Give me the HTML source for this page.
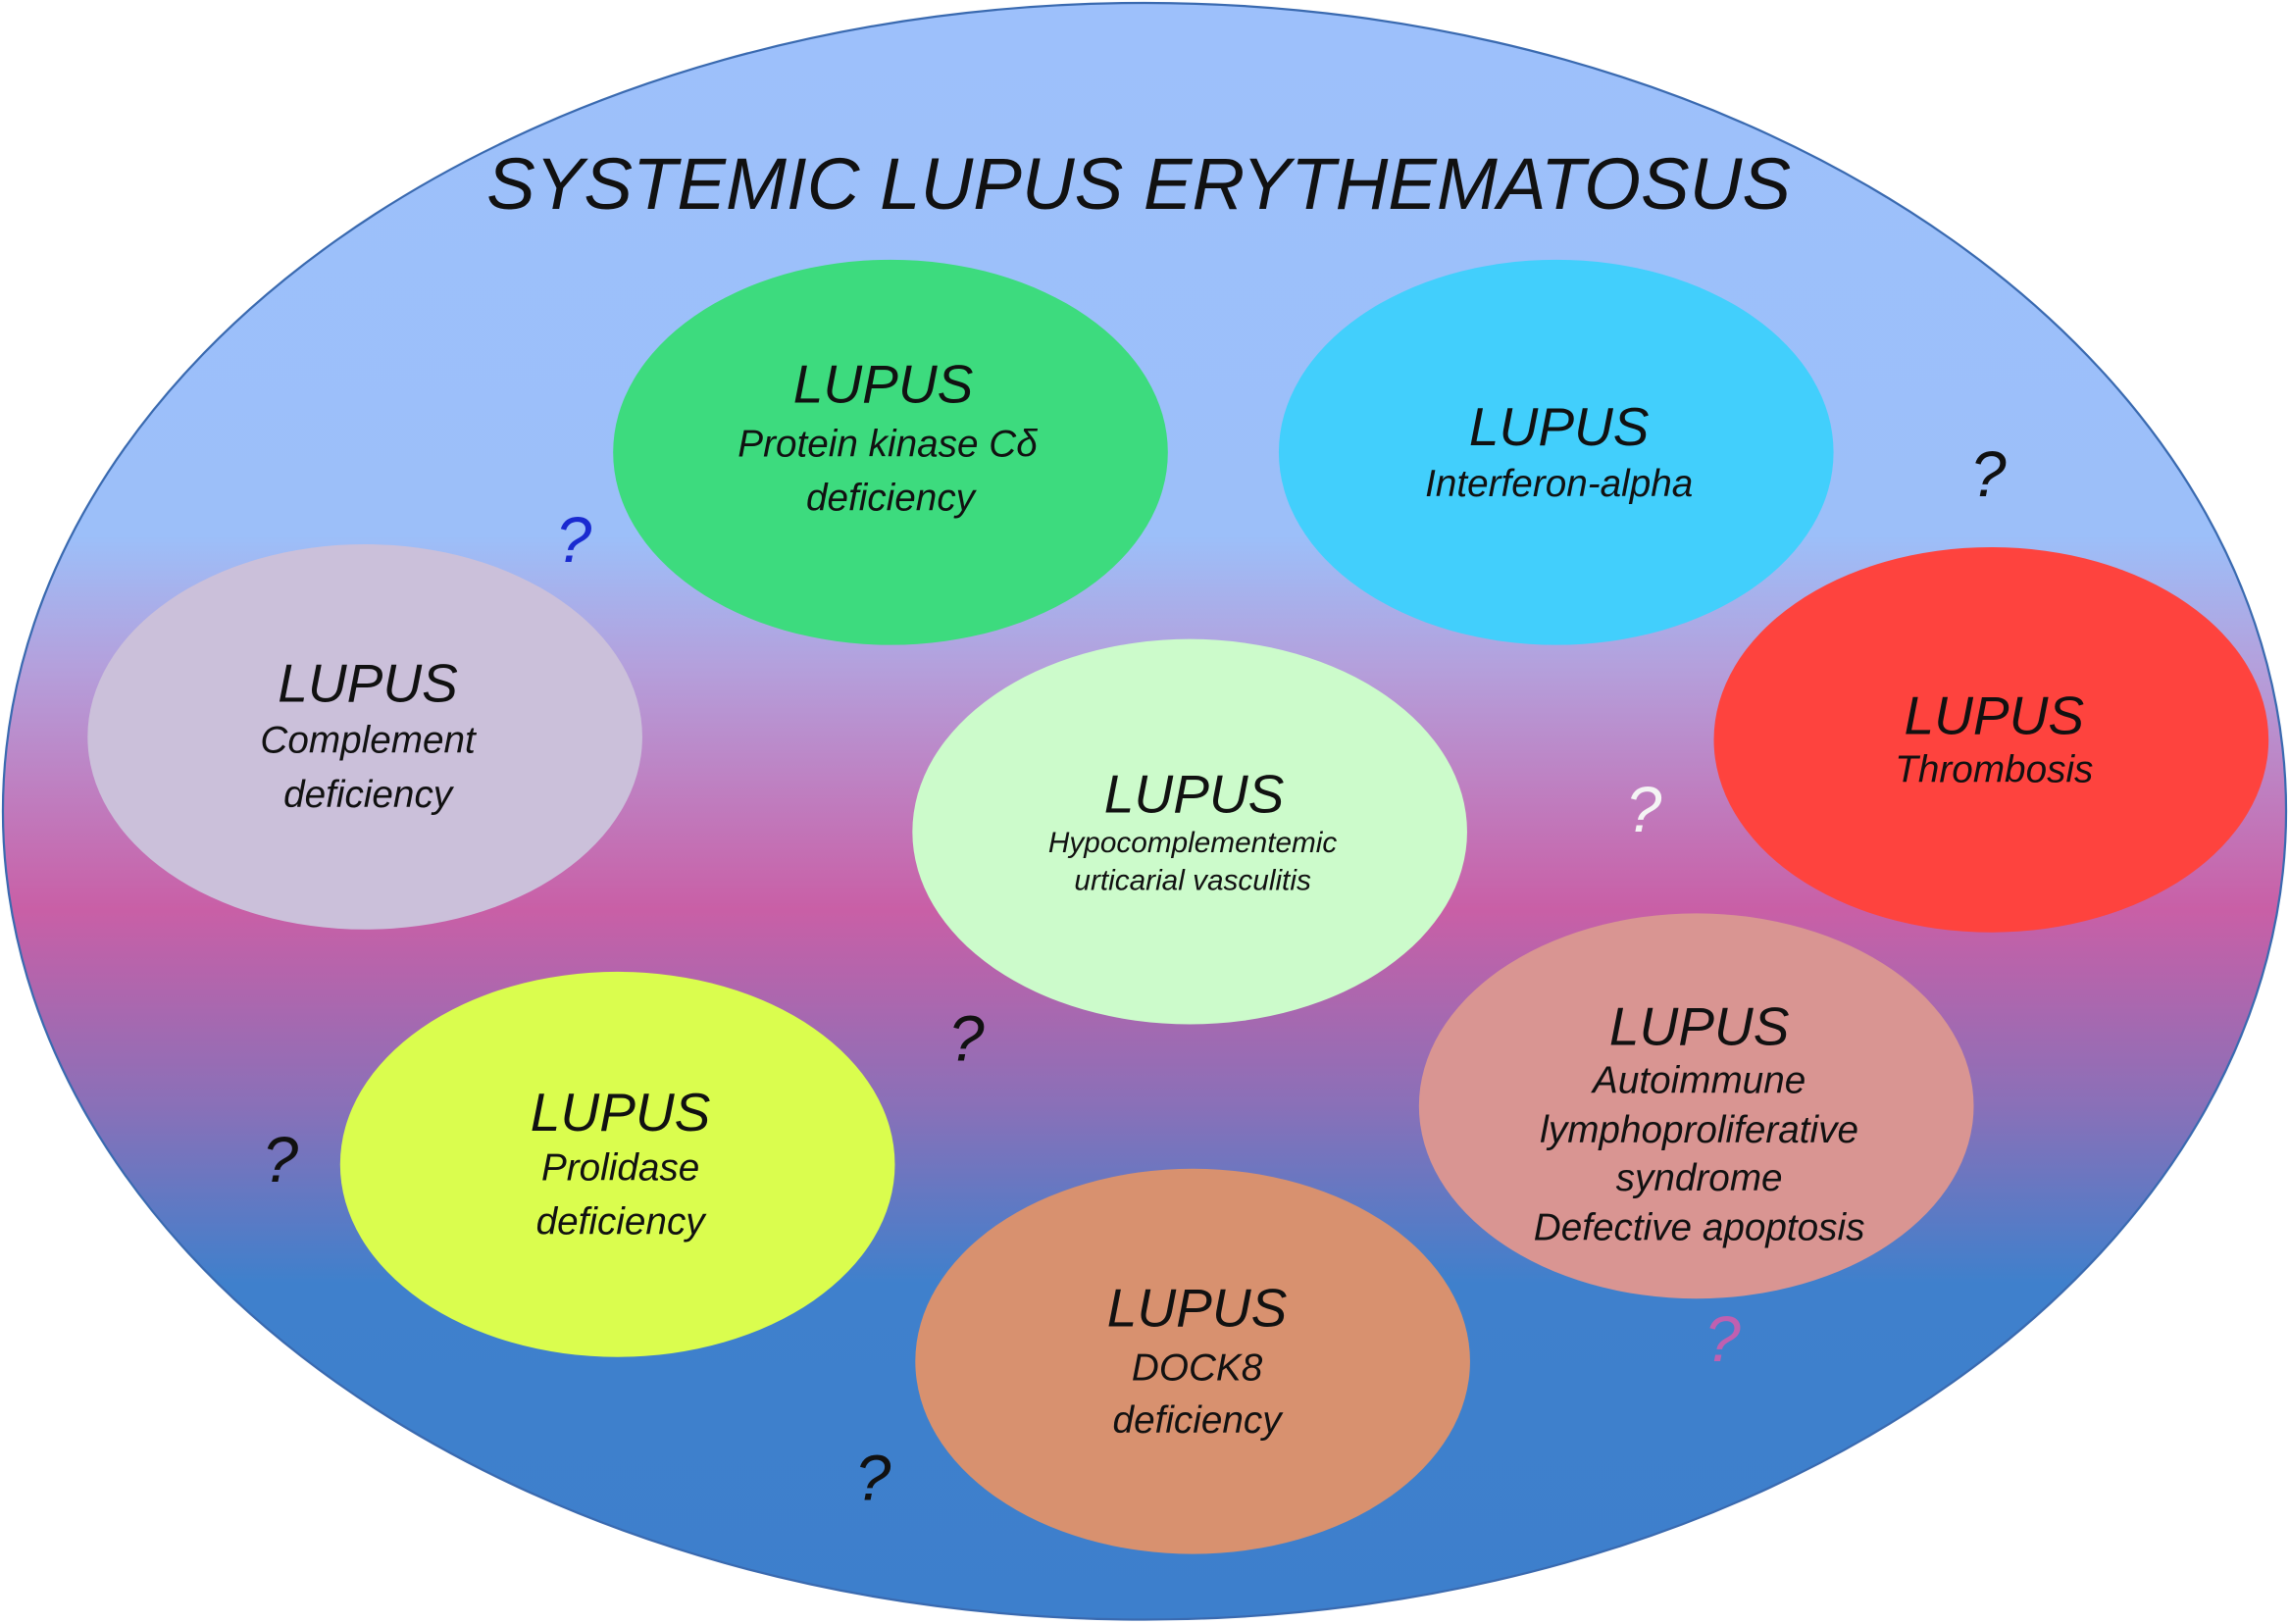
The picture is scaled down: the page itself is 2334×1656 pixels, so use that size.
<!DOCTYPE html>
<html><head><meta charset="utf-8"><style>
html,body{margin:0;padding:0;background:#fff;width:2334px;height:1656px;overflow:hidden}
svg{display:block}
text{font-family:"Liberation Sans",sans-serif;font-style:italic;text-anchor:middle;fill:#111}
.L{font-size:37px}.s{font-size:26px}.h{font-size:20px}.q{font-size:44px}
</style></head><body>
<svg width="2334" height="1656" viewBox="0 0 1568 1113" preserveAspectRatio="none">
<defs><linearGradient id="g" x1="0" y1="0" x2="0" y2="1113" gradientUnits="userSpaceOnUse">
<stop offset="0" stop-color="#9dc0fb"/><stop offset="0.33" stop-color="#9cbff9"/>
<stop offset="0.41" stop-color="#b4a0dc"/><stop offset="0.56" stop-color="#c95fa6"/>
<stop offset="0.68" stop-color="#8a70b8"/><stop offset="0.79" stop-color="#3f80cc"/>
<stop offset="1" stop-color="#3d7fcc"/></linearGradient></defs>
<ellipse cx="784" cy="556" rx="782" ry="554" fill="url(#g)" stroke="#3a6ab0" stroke-width="1.5"/>
<text x="780" y="143" style="font-size:50px">SYSTEMIC LUPUS ERYTHEMATOSUS</text>
<ellipse cx="610" cy="310" rx="190" ry="132" fill="#3ddb7e"/>
<ellipse cx="1066" cy="310" rx="190" ry="132" fill="#42cffc"/>
<ellipse cx="250" cy="505" rx="190" ry="132" fill="#cbc0da"/>
<ellipse cx="815" cy="570" rx="190" ry="132" fill="#ccfbcb"/>
<ellipse cx="1364" cy="507" rx="190" ry="132" fill="#fe433e"/>
<ellipse cx="423" cy="798" rx="190" ry="132" fill="#dafd4e"/>
<ellipse cx="1162" cy="758" rx="190" ry="132" fill="#d99592"/>
<ellipse cx="817" cy="933" rx="190" ry="132" fill="#d8916f"/>
<text class="L" x="605" y="276">LUPUS</text><text class="s" x="608" y="313">Protein kinase Cδ</text><text class="s" x="610" y="350">deficiency</text>
<text class="L" x="1068" y="305">LUPUS</text><text class="s" x="1068" y="340">Interferon-alpha</text>
<text class="L" x="252" y="481">LUPUS</text><text class="s" x="252" y="516">Complement</text><text class="s" x="252" y="553">deficiency</text>
<text class="L" x="818" y="557">LUPUS</text><text class="h" x="817" y="584">Hypocomplementemic</text><text class="h" x="817" y="610">urticarial vasculitis</text>
<text class="L" x="1366" y="503">LUPUS</text><text class="s" x="1366" y="536">Thrombosis</text>
<text class="L" x="425" y="775">LUPUS</text><text class="s" x="425" y="809">Prolidase</text><text class="s" x="425" y="846">deficiency</text>
<text class="L" x="1164" y="716">LUPUS</text><text class="s" x="1164" y="749">Autoimmune</text><text class="s" x="1164" y="783">lymphoproliferative</text><text class="s" x="1164" y="816">syndrome</text><text class="s" x="1164" y="850">Defective apoptosis</text>
<text class="L" x="820" y="909">LUPUS</text><text class="s" x="820" y="946">DOCK8</text><text class="s" x="820" y="982">deficiency</text>
<text class="q" x="393" y="385" style="fill:#1a2ad0">?</text>
<text class="q" x="1362" y="340">?</text>
<text class="q" x="1126" y="570" style="fill:#f4f4f4">?</text>
<text class="q" x="662" y="727">?</text>
<text class="q" x="192" y="810">?</text>
<text class="q" x="1180" y="933" style="fill:#c060b0">?</text>
<text class="q" x="598" y="1028">?</text>
</svg>
</body></html>
